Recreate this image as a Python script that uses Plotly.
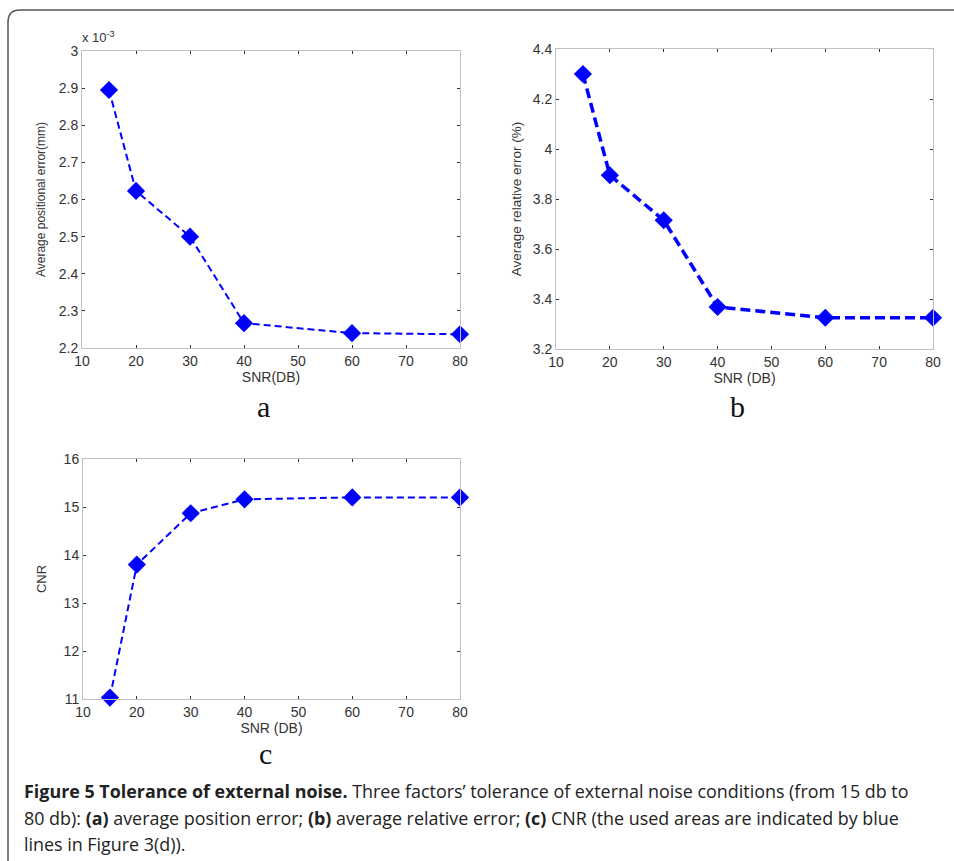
import plotly.graph_objects as go

snr = [15, 20, 30, 40, 60, 80]
pos_error_e3 = [2.895, 2.623, 2.500, 2.267, 2.240, 2.237]   # x 10^-3 mm
rel_error = [4.30, 3.895, 3.715, 3.368, 3.325, 3.325]
cnr = [11.03, 13.80, 14.87, 15.16, 15.20, 15.20]

x_ticks = [10, 20, 30, 40, 50, 60, 70, 80]
a_ticks = [2.2, 2.3, 2.4, 2.5, 2.6, 2.7, 2.8, 2.9, 3.0]
a_ticktext = ["2.2", "2.3", "2.4", "2.5", "2.6", "2.7", "2.8", "2.9", "3"]
b_ticks = [3.2, 3.4, 3.6, 3.8, 4.0, 4.2, 4.4]
b_ticktext = ["3.2", "3.4", "3.6", "3.8", "4", "4.2", "4.4"]
c_ticks = [11, 12, 13, 14, 15, 16]

caption_lines = [
    "<b>Figure 5 Tolerance of external noise.</b> Three factors’ tolerance of external noise conditions (from 15 db to",
    "80 db): <b>(a)</b> average position error; <b>(b)</b> average relative error; <b>(c)</b> CNR (the used areas are indicated by blue",
    "lines in Figure 3(d)).",
]

W, H = 954, 861
def px(x): return x / W
def py(y): return 1 - y / H

BLUE = "#0000ff"
SANS = "Liberation Sans, Arial, sans-serif"
tickfont = dict(family=SANS, size=14, color="#333333")
fig = go.Figure()

for xa, ya, vals, lw, dash in [("x", "y", pos_error_e3, 2, "7px,4px"),
                               ("x2", "y2", rel_error, 3.5, "10px,5px"),
                               ("x3", "y3", cnr, 2, "7px,4px")]:
    fig.add_trace(go.Scatter(x=snr, y=vals, mode="lines+markers", xaxis=xa, yaxis=ya,
                             line=dict(color=BLUE, width=lw, dash=dash), cliponaxis=False,
                             marker=dict(symbol="diamond", size=14, color=BLUE), showlegend=False))

def xax(dom, anchor, title):
    return dict(domain=dom, anchor=anchor, range=[10, 80], tickvals=x_ticks, automargin=False,
                showline=True, linecolor="#c0c0c0", linewidth=1, mirror="ticks",
                ticks="inside", ticklen=3, tickcolor="#333333", showgrid=False, zeroline=False,
                tickfont=tickfont, title=dict(text=title, font=tickfont, standoff=2))

def yax(dom, anchor, rng, tv, tt, title, standoff, tsize):
    return dict(domain=dom, anchor=anchor, range=rng, tickvals=tv, ticktext=tt, automargin=False,
                showline=True, linecolor="#c0c0c0", linewidth=1, mirror="ticks",
                ticks="inside", ticklen=3, tickcolor="#333333", showgrid=False, zeroline=False,
                tickfont=tickfont,
                title=dict(text=title, font=dict(family=SANS, size=tsize, color="#333333"), standoff=standoff))

fig.update_layout(
    width=W, height=H, margin=dict(l=0, r=0, t=0, b=0), template="none",
    paper_bgcolor="white", plot_bgcolor="white",
    xaxis=xax([px(82), px(460)], "y", "SNR(DB)"),
    yaxis=yax([py(348), py(51)], "x", [2.2, 3.0], a_ticks, a_ticktext, "Average positional error(mm)", 10, 12),
    xaxis2=xax([px(556), px(933)], "y2", "SNR (DB)"),
    yaxis2=yax([py(349), py(49)], "x2", [3.2, 4.4], b_ticks, b_ticktext, "Average relative error (%)", 8, 13.5),
    xaxis3=xax([px(83), px(460)], "y3", "SNR (DB)"),
    yaxis3=yax([py(699), py(459)], "x3", [11, 16], c_ticks, [str(v) for v in c_ticks], "CNR", 14, 13),
)

# frame around figure (top and left, rounded corner)
fig.add_shape(type="path", xref="paper", yref="paper",
              path=f"M {px(8)},{py(861)} L {px(8)},{py(22)} Q {px(8)},{py(10)} {px(20)},{py(10)} L {px(954)},{py(10)}",
              line=dict(color="#555555", width=1.5))

serif = dict(family="Liberation Serif, Times New Roman, serif", size=30, color="#111111")
for lab, x, y in [("a", 263, 406), ("b", 737, 406), ("c", 265, 753)]:
    fig.add_annotation(text=lab, x=px(x), y=py(y), xref="paper", yref="paper",
                       showarrow=False, font=serif, xanchor="center", yanchor="middle")

fig.add_annotation(text="x 10<sup>-3</sup>", x=px(80), y=py(37), xref="paper", yref="paper",
                   showarrow=False, font=dict(family=SANS, size=13, color="#333333"),
                   xanchor="left", yanchor="middle")

capfont = dict(family="Open Sans, Noto Sans, sans-serif", size=17.9, color="#222222")
for i, line in enumerate(caption_lines):
    fig.add_annotation(text=line, x=px(22), y=py(791 + i * 26.5), xref="paper", yref="paper",
                       showarrow=False, font=capfont, xanchor="left", yanchor="middle", align="left")

fig.write_html("out.html")
